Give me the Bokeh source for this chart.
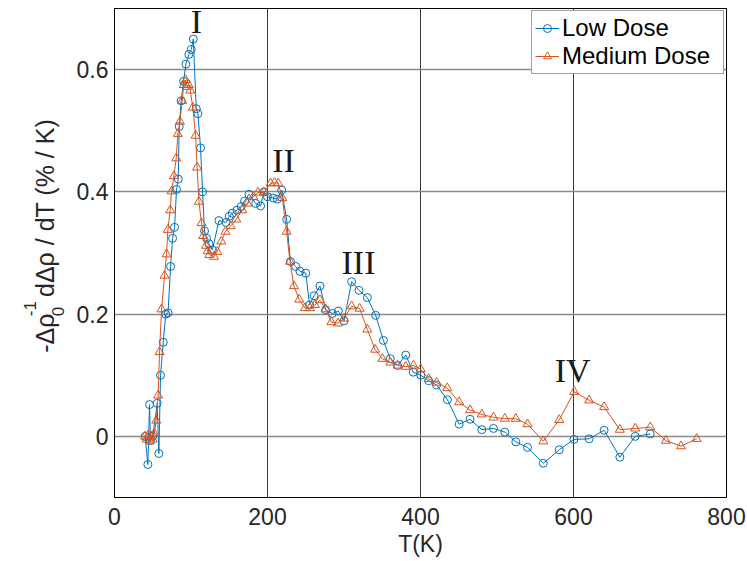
import math
from bokeh.plotting import figure
from bokeh.layouts import row
from bokeh.models import Label, Legend, LegendItem, FixedTicker, Range1d
from bokeh.embed import file_html
from bokeh.resources import INLINE

# ---- data ----
low_T = [40, 43.6, 45.8, 47, 50, 55.8, 58, 60.2, 63.7, 67, 70, 73.3, 75.9, 78.5, 81.1, 83.3,
         84.6, 87.2, 90.3, 93.3, 97.2, 100.3, 103, 106.9, 109, 112.5, 115.1, 117.7, 120.4,
         123.5, 128, 136.5, 146, 150, 154, 160, 165.7, 170, 175.7, 184.5, 191, 195.4, 200,
         207.6, 212.8, 218.5, 225, 230, 236.8, 242.5, 250, 255, 260.8, 268.6, 276, 284.8,
         292.6, 300, 310, 319.6, 330.5, 341.4, 351.5, 360.5, 370, 380.7, 390.5, 400.5, 410.7,
         421, 435.2, 450.5, 464.8, 480.1, 495.4, 510.2, 524.6, 539.9, 560.5, 581.3, 600.5,
         620.5, 640, 660.6, 680.7, 700.3]
low_y = [0.0, -0.046, 0.052, -0.007, 0.0, 0.054, -0.028, 0.100, 0.154, 0.200, 0.202, 0.278,
         0.324, 0.342, 0.404, 0.421, 0.507, 0.549, 0.581, 0.609, 0.625, 0.633, 0.650, 0.536,
         0.528, 0.472, 0.400, 0.336, 0.324, 0.315, 0.305, 0.353, 0.350, 0.360, 0.365, 0.370,
         0.376, 0.385, 0.396, 0.381, 0.377, 0.400, 0.392, 0.390, 0.388, 0.403, 0.355, 0.286,
         0.278, 0.270, 0.267, 0.215, 0.230, 0.246, 0.207, 0.201, 0.205, 0.189, 0.253, 0.239,
         0.227, 0.198, 0.157, 0.127, 0.116, 0.133, 0.105, 0.100, 0.091, 0.084, 0.060, 0.020,
         0.028, 0.011, 0.013, 0.007, -0.009, -0.018, -0.044, -0.022, -0.005, -0.004, 0.010,
         -0.034, 0.000, 0.004]

med_T = [40, 42, 44, 46, 48, 50, 52, 54.5, 57.1, 58.9, 61.5, 65.4, 68, 69.8, 72.8, 74.6, 77.6,
         80.7, 82.8, 85.5, 88.5, 90.5, 93, 95, 97, 99, 102.4, 106, 108, 110.3, 113.8, 116,
         119.5, 121.8, 124, 130, 134.3, 139.6, 145, 151.8, 159.2, 167, 173.6, 181.4, 187.5,
         195.4, 204, 209.3, 214, 219.4, 225, 229.4, 234.5, 241.5, 249, 255.5, 262, 268.6, 276,
         283.5, 292, 300, 310, 320.5, 330.5, 340.6, 350.2, 360.5, 370, 380.7, 390.7, 400.3,
         410.7, 421, 435, 450.5, 464.8, 480.1, 495.4, 510.2, 524.6, 539.9, 560.5, 581.3, 601,
         620.5, 640, 660.6, 680.7, 700.3, 720.8, 740.5, 761]
med_y = [0.0, -0.005, 0.002, -0.008, 0.0, -0.005, 0.005, 0.026, 0.067, 0.138, 0.208, 0.263,
         0.298, 0.338, 0.370, 0.401, 0.426, 0.455, 0.495, 0.515, 0.549, 0.575, 0.583, 0.572,
         0.575, 0.566, 0.538, 0.492, 0.440, 0.384, 0.349, 0.328, 0.312, 0.303, 0.297, 0.294,
         0.302, 0.319, 0.335, 0.344, 0.355, 0.370, 0.381, 0.392, 0.399, 0.399, 0.414, 0.415,
         0.414, 0.390, 0.335, 0.286, 0.246, 0.224, 0.210, 0.210, 0.215, 0.223, 0.208, 0.187,
         0.185, 0.193, 0.213, 0.209, 0.175, 0.142, 0.127, 0.121, 0.116, 0.114, 0.116, 0.110,
         0.094, 0.088, 0.079, 0.056, 0.043, 0.036, 0.031, 0.029, 0.029, 0.020, -0.008, 0.027,
         0.073, 0.059, 0.048, 0.011, 0.013, 0.015, -0.007, -0.016, -0.004]

x_ticks = [0, 200, 400, 600, 800]
y_ticks = [0, 0.2, 0.4, 0.6]
y_tick_labels = {0: "0", 0.2: "0.2", 0.4: "0.4", 0.6: "0.6"}
series_names = ["Low Dose", "Medium Dose"]
peak_labels = ["I", "II", "III", "IV"]
peak_T = [107, 221, 319, 599]
peak_y = [0.679, 0.452, 0.285, 0.108]
x_label = "T(K)"
y_label_parts = ["-Δρ", "-1", "0", "dΔρ / dT (% / K)"]

BLUE = "#0072BD"
ORANGE = "#D95319"
TXT = "#262626"

TOTAL_W, H = 747, 561
LW = 70  # width of the side panel that carries the y-axis label

# ---------- side panel with the (stacked sub/superscript) y label ----------
side = figure(width=LW, height=H, output_backend="svg", toolbar_location=None,
              x_range=Range1d(0, LW), y_range=Range1d(0, H),
              x_axis_location=None, y_axis_location=None,
              min_border=0, min_border_left=0, min_border_right=0,
              min_border_top=0, min_border_bottom=0)
side.outline_line_color = None
side.xgrid.visible = False
side.ygrid.visible = False
side.background_fill_color = "white"
side.border_fill_color = "white"

rot = math.pi / 2
# page coordinates (x from left, y from top) converted to the panel's data units
piece_pos = [(44, 395, "25px"), (29, 353, "17px"), (57, 353, "17px"), (44, 331, "25px")]
for txt, (px, py, fs) in zip(y_label_parts, piece_pos):
    side.add_layout(Label(x=px, y=H - py, text=txt, angle=rot,
                          text_font="Liberation Sans", text_font_size=fs,
                          text_color=TXT, text_align="left", text_baseline="middle"))

# ---------- main plot ----------
p = figure(width=TOTAL_W - LW, height=H, output_backend="svg", toolbar_location=None,
           x_range=Range1d(0, 800), y_range=Range1d(-0.1, 0.7),
           min_border_left=114 - LW, min_border_right=21, min_border_top=8,
           min_border_bottom=64)
p.background_fill_color = "white"
p.border_fill_color = "white"
p.outline_line_color = "black"
p.outline_line_width = 1

for ax in (p.xaxis[0], p.yaxis[0]):
    ax.major_tick_in = 0
    ax.major_tick_out = 0
    ax.minor_tick_line_color = None
    ax.axis_line_color = "black"
    ax.major_label_text_font = "Liberation Sans"
    ax.major_label_text_font_size = "23px"
    ax.major_label_text_color = TXT

p.xaxis.ticker = FixedTicker(ticks=x_ticks)
p.yaxis.ticker = FixedTicker(ticks=y_ticks)
p.yaxis.major_label_overrides = y_tick_labels
p.xaxis.major_label_standoff = 10
p.yaxis.major_label_standoff = 6

p.xaxis.axis_label = x_label
p.xaxis.axis_label_text_font = "Liberation Sans"
p.xaxis.axis_label_text_font_size = "23px"
p.xaxis.axis_label_text_font_style = "normal"
p.xaxis.axis_label_text_color = TXT
p.xaxis.axis_label_standoff = 3

p.xgrid.grid_line_color = "#3a3a3a"
p.xgrid.grid_line_width = 1
p.ygrid.grid_line_color = "#8a8a8a"
p.ygrid.grid_line_width = 1.5

l1 = p.line(low_T, low_y, line_color=BLUE, line_width=1)
s1 = p.scatter(low_T, low_y, marker="circle", size=8, fill_color=None,
               line_color=BLUE, line_width=1)
l2 = p.line(med_T, med_y, line_color=ORANGE, line_width=1)
s2 = p.scatter(med_T, med_y, marker="triangle", size=9, fill_color=None,
               line_color=ORANGE, line_width=1)

legend = Legend(items=[LegendItem(label=series_names[0], renderers=[l1, s1]),
                       LegendItem(label=series_names[1], renderers=[l2, s2])],
                location="top_right", margin=2, padding=3, spacing=0,
                glyph_width=24, glyph_height=20, label_standoff=3,
                label_width=158, label_height=20,
                label_text_font="Liberation Sans", label_text_font_size="24px",
                label_text_color="black", border_line_color="#444444",
                border_line_width=1, background_fill_color="white",
                background_fill_alpha=1.0)
p.add_layout(legend)

for t, x, y in zip(peak_labels, peak_T, peak_y):
    p.add_layout(Label(x=x, y=y, text=t, text_font="Liberation Serif",
                       text_font_size="34px", text_color="#1a1a1a",
                       text_align="center", text_baseline="middle"))

layout = row(side, p, spacing=0)
open("out.html", "w").write(file_html(layout, INLINE))
